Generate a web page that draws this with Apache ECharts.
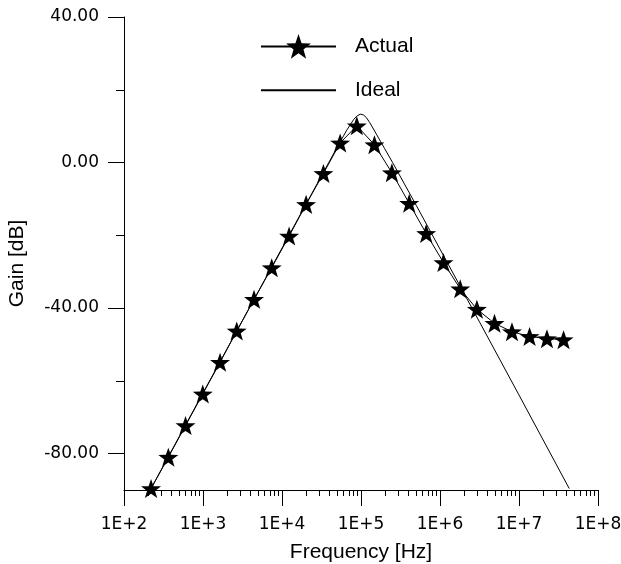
<!DOCTYPE html>
<html>
<head>
<meta charset="utf-8">
<script src="https://cdn.jsdelivr.net/npm/echarts@6/dist/echarts.min.js"></script>
<style>
  html, body { margin: 0; padding: 0; background: #fff; }
  #chart { width: 621px; height: 564px; }
</style>
</head>
<body>
<div id="chart"></div>
<script>
// Measured response (star markers)
const freqActual = [220, 364, 601, 993, 1644, 2673, 4426, 7413, 12300, 20180, 33420, 54450, 88510,
  147900, 246000, 407400, 668300, 1107000, 1803000, 2931000, 4898000, 8147000, 13610000, 22590000, 36640000];
const gainActual = [-89.6, -81.0, -72.3, -63.6, -54.9, -46.3, -37.6, -28.9, -20.2, -11.5, -3.0, 5.4, 10.1,
  4.9, -2.8, -11.2, -19.5, -27.5, -34.7, -40.3, -44.2, -46.5, -47.8, -48.4, -48.7];

// Ideal response (thin line)
const freqIdeal = [220, 631, 1995, 6310, 19950, 39810, 50120, 57540, 66070, 74130, 81280, 89130,
  97720, 107200, 117500, 128800, 141300, 158500, 177800, 199500, 251200, 501200, 1175000, 3162000,
  10000000, 43250000];
const gainIdeal = [-89.6, -71.3, -51.4, -31.5, -11.6, 0.3, 4.3, 6.6, 8.9, 10.6, 11.9, 12.8,
  13.3, 13.1, 12.3, 11.0, 9.5, 7.6, 5.7, 3.8, 0.0, -11.8, -26.6, -43.8,
  -63.9, -89.6];

// Axis ticks
const freqMajorTicks = [1e2, 1e3, 1e4, 1e5, 1e6, 1e7, 1e8];
const freqMinorTicks = [];
for (let e = 2; e < 8; e++) {
  for (let m = 2; m <= 9; m++) freqMinorTicks.push(m * Math.pow(10, e));
}
const gainMajorTicks = [-80, -40, 0, 40];
const gainMinorTicks = [-60, -20, 20];

const starPath = 'path://M50 0 L61.8 33.8 L97.55 34.55 L69.1 56.4 L79.39 90.45 L50 70.5 L20.61 90.45 L30.9 56.4 L2.45 34.55 L38.2 33.8 Z';

const tickFont = { fontFamily: 'DejaVu Sans', fontSize: 17, color: '#000' };
const nameFont = { fontFamily: 'Liberation Sans', fontSize: 21, color: '#000' };

const pair = (xs, ys) => xs.map((x, i) => [x, ys[i]]);

const chart = echarts.init(document.getElementById('chart'), null, { renderer: 'canvas' });
chart.setOption({
  animation: false,
  backgroundColor: '#fff',
  grid: { left: 124, right: 23, top: 17, bottom: 74, containLabel: false, outerBoundsMode: 'none' },
  legend: {
    orient: 'vertical',
    left: 255,
    top: 29,
    itemWidth: 75,
    itemHeight: 31,
    itemGap: 19,
    data: [
      { name: 'Actual' },
      { name: 'Ideal', itemStyle: { opacity: 0 } }
    ],
    textStyle: Object.assign({ padding: [0, 0, 0, 14] }, nameFont)
  },
  xAxis: [
    {
      type: 'log',
      logBase: 10,
      min: 1e2,
      max: 1e8,
      position: 'bottom',
      name: 'Frequency [Hz]',
      nameLocation: 'middle',
      nameGap: 52,
      nameTextStyle: nameFont,
      axisLine: { show: true, onZero: false, lineStyle: { color: '#000', width: 1 } },
      axisTick: { show: true, inside: false, length: 16, customValues: freqMajorTicks, lineStyle: { color: '#000', width: 1 } },
      axisLabel: {
        show: true, margin: 26, customValues: freqMajorTicks,
        formatter: v => '1E+' + Math.round(Math.log10(v)),
        ...tickFont
      },
      splitLine: { show: false },
      minorTick: { show: false }
    },
    {
      type: 'log',
      logBase: 10,
      min: 1e2,
      max: 1e8,
      position: 'bottom',
      axisLine: { show: false, onZero: false },
      axisTick: { show: true, inside: false, length: 6, customValues: freqMinorTicks, lineStyle: { color: '#000', width: 1 } },
      axisLabel: { show: false },
      splitLine: { show: false }
    }
  ],
  yAxis: [
    {
      type: 'value',
      min: -90,
      max: 40,
      position: 'left',
      name: 'Gain [dB]',
      nameLocation: 'middle',
      nameGap: 96,
      nameTextStyle: Object.assign({ padding: [0, 20, 0, 0] }, nameFont),
      axisLine: { show: true, onZero: false, lineStyle: { color: '#000', width: 1 } },
      axisTick: { show: true, inside: false, length: 16, customValues: gainMajorTicks, lineStyle: { color: '#000', width: 1 } },
      axisLabel: {
        show: true, margin: 25, customValues: gainMajorTicks,
        formatter: v => v.toFixed(2),
        ...tickFont
      },
      splitLine: { show: false }
    },
    {
      type: 'value',
      min: -90,
      max: 40,
      position: 'left',
      axisLine: { show: false, onZero: false },
      axisTick: { show: true, inside: false, length: 8, customValues: gainMinorTicks, lineStyle: { color: '#000', width: 1 } },
      axisLabel: { show: false },
      splitLine: { show: false }
    }
  ],
  series: [
    {
      name: 'Ideal',
      type: 'line',
      xAxisIndex: 0,
      yAxisIndex: 0,
      data: pair(freqIdeal, gainIdeal),
      symbol: 'none',
      smooth: false,
      lineStyle: { color: '#000', width: 1 },
      itemStyle: { color: '#000' },
      clip: true,
      z: 2
    },
    {
      name: 'Actual',
      type: 'line',
      xAxisIndex: 0,
      yAxisIndex: 0,
      data: pair(freqActual, gainActual),
      symbol: starPath,
      symbolSize: 20,
      symbolKeepAspect: true,
      showSymbol: true,
      lineStyle: { color: '#000', width: 1 },
      itemStyle: { color: '#000', borderWidth: 0 },
      clip: false,
      z: 3
    }
  ]
});
</script>
</body>
</html>
